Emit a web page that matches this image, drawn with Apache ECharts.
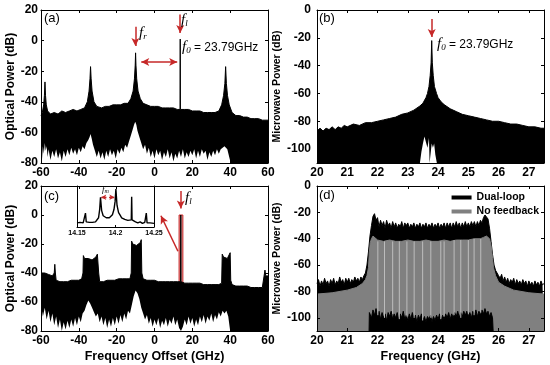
<!DOCTYPE html>
<html><head><meta charset="utf-8">
<script src="https://cdn.jsdelivr.net/npm/echarts@6/dist/echarts.min.js"></script>
<style>html,body{margin:0;padding:0;background:#fff}#c{width:550px;height:365px}</style>
</head><body><div id="c"></div>
<script>
// ---------- DATA ----------
const offsetTicks = [-60, -40, -20, 0, 20, 40, 60];
const freqTicks = [20, 21, 22, 23, 24, 25, 26, 27];
const microTicks = [-100, -80, -60, -40, -20, 0];
const insetTicks = [14.15, 14.2, 14.25];

// (a) optical spectrum, upper envelope [GHz, dB]
const aUpper = [[-60,-49],[-59.3,-47],[-58.6,-42],[-58.2,-36],[-57.9,-27],[-57.6,-36],[-57.2,-42],[-56.5,-46],[-55,-48],[-53,-47],[-51,-48],[-49,-46],[-47,-47],[-45,-46],[-43,-45],[-41,-46],[-39,-45],[-37,-44],[-35.5,-40],[-34.6,-33],[-34.1,-25],[-33.8,-17],[-33.5,-25],[-33,-33],[-32,-40],[-30.5,-43],[-28,-44],[-26,-43],[-24,-43],[-22,-42],[-20,-42],[-18,-42],[-16,-41],[-14,-41],[-12.5,-38],[-11.3,-33],[-10.6,-25],[-10.2,-16],[-10,-8],[-9.8,-16],[-9.4,-25],[-8.7,-33],[-7.5,-38],[-6,-41],[-4,-42],[-2,-43],[0,-43],[2,-43],[4,-44],[6,-44],[8,-44],[10,-44],[12,-45],[13.5,-45],[13.6,1],[13.7,-45],[16,-45],[18,-45],[20,-46],[22,-46],[24,-46],[26,-47],[28,-47],[30,-47],[32,-47],[34,-46],[35.5,-42],[36.5,-36],[37.2,-28],[37.6,-17],[38,-28],[38.6,-36],[39.5,-42],[41,-47],[43,-49],[45,-49],[47,-50],[49,-50],[51,-51],[53,-51],[55,-51],[57,-52],[60,-52]];
// (a) lower edge of the noise (white below)
const aLower = [[-60,-70],[-59.5,-78],[-59,-69],[-58.5,-74],[-58,-67],[-57.5,-72],[-57,-69],[-56.5,-76],[-56,-71],[-55,-78],[-54,-72],[-53,-76],[-52,-71],[-51,-77],[-50,-73],[-49,-79],[-48,-72],[-47,-76],[-46,-71],[-45,-75],[-44,-70],[-43,-74],[-42,-71],[-41,-75],[-40,-70],[-39,-73],[-38,-69],[-37,-71],[-36,-67],[-35,-65],[-34.3,-63],[-33.8,-61],[-33.2,-64],[-32.5,-68],[-31.5,-72],[-30.5,-76],[-29.5,-72],[-28.5,-77],[-27.5,-73],[-26.5,-78],[-25.5,-72],[-24.5,-76],[-23.5,-71],[-22.5,-75],[-21.5,-72],[-20.5,-77],[-19.5,-71],[-18.5,-74],[-17.5,-70],[-16.5,-73],[-15.5,-68],[-14.5,-70],[-13.5,-66],[-12.5,-62],[-11.5,-58],[-10.8,-55],[-10.2,-53],[-9.6,-55],[-9,-59],[-8,-63],[-7,-67],[-6,-71],[-5,-68],[-4,-74],[-3,-70],[-2,-76],[-1,-72],[0,-77],[1,-71],[2,-75],[3,-72],[4,-78],[5,-73],[6,-76],[7,-71],[8,-77],[9,-73],[10,-79],[11,-74],[12,-77],[13,-72],[14,-76],[15,-71],[16,-77],[17,-73],[18,-76],[19,-72],[20,-75],[21,-71],[22,-77],[23,-72],[24,-76],[25,-71],[26,-74],[27,-72],[28,-78],[29,-73],[30,-76],[31,-72],[32,-75],[33,-71],[34,-74],[35,-71],[36,-70],[37,-69],[37.7,-68],[38.5,-71],[39.5,-76],[40.3,-80],[60,-80]];

// (b) microwave spectrum
const bUpper = [[20,-87],[20.1,-85],[20.2,-87],[20.3,-85],[20.4,-86],[20.5,-84],[20.6,-86],[20.7,-84],[20.8,-85],[20.9,-83],[21,-84],[21.2,-82],[21.4,-83],[21.6,-81],[21.8,-81],[22,-80],[22.2,-79],[22.4,-78],[22.6,-77],[22.8,-75],[23,-74],[23.2,-72],[23.4,-69],[23.5,-67],[23.6,-63],[23.65,-60],[23.7,-55],[23.74,-47],[23.77,-38],[23.79,-22],[23.81,-38],[23.84,-47],[23.88,-55],[23.95,-60],[24,-63],[24.1,-66],[24.2,-68],[24.4,-71],[24.6,-73],[24.8,-75],[25,-76],[25.2,-77],[25.4,-78],[25.6,-79],[25.8,-80],[26,-80],[26.2,-81],[26.4,-82],[26.6,-82],[26.8,-83],[27,-84],[27.2,-84],[27.4,-85],[27.5,-85]];
const bLower = [[23.4,-110],[23.45,-102],[23.5,-96],[23.55,-91],[23.6,-95],[23.65,-99],[23.7,-92],[23.72,-110],[23.77,-110],[23.79,-96],[23.83,-99],[23.87,-96],[23.91,-104],[23.96,-110]];

// (c) optical spectrum with dual loop
const cUpper = [[-60,-40],[-58,-40],[-56,-41],[-54,-42],[-53,-40],[-52.7,-34],[-52.4,-40],[-52,-45],[-50,-46],[-48,-46],[-46,-46],[-44,-45],[-42,-45],[-40,-45],[-38.5,-44],[-37.8,-40],[-37.6,-28],[-37,-30],[-36,-29],[-35,-30],[-34,-31],[-33,-31],[-32,-30],[-31,-29],[-30.2,-27],[-29.8,-26],[-29.5,-40],[-29,-46],[-27,-46],[-25,-45],[-23,-45],[-21,-45],[-19,-44],[-17,-44],[-15,-44],[-13,-44],[-12.3,-40],[-12.1,-18],[-11.5,-20],[-10.5,-20],[-9.5,-21],[-8.5,-20],[-7.5,-19],[-7,-17],[-6.7,-40],[-6,-44],[-4,-45],[-2,-45],[0,-45],[2,-46],[4,-46],[6,-46],[8,-46],[10,-46],[12,-46],[13.8,-46],[13.9,0],[14.0,-46],[16,-47],[18,-47],[20,-47],[22,-47],[24,-47],[26,-48],[28,-48],[30,-48],[32,-48],[34,-48],[35.5,-47],[35.8,-27],[36.5,-29],[37.5,-30],[38.5,-30],[39.5,-29],[40,-26],[40.3,-45],[41,-48],[43,-49],[45,-49],[47,-49],[49,-49],[51,-50],[53,-50],[55,-50],[57,-50],[58,-49],[58.4,-38],[58.8,-42],[59.5,-42],[60,-42]];
const cLower = [[-60,-62],[-59,-70],[-58,-64],[-57,-72],[-56,-66],[-55,-74],[-54,-68],[-53,-76],[-52,-70],[-51,-78],[-50,-72],[-49,-80],[-48,-74],[-47,-79],[-46,-73],[-45,-78],[-44,-72],[-43,-77],[-42,-71],[-41,-76],[-40,-70],[-39,-74],[-38,-68],[-37,-66],[-36,-62],[-35,-59],[-34,-61],[-33,-64],[-32,-67],[-31,-70],[-30,-68],[-29,-74],[-28,-70],[-27,-76],[-26,-71],[-25,-78],[-24,-72],[-23,-77],[-22,-71],[-21,-76],[-20,-70],[-19,-75],[-18,-69],[-17,-74],[-16,-68],[-15,-72],[-14,-66],[-13,-68],[-12,-62],[-11,-56],[-10,-52],[-9,-54],[-8,-58],[-7,-64],[-6,-68],[-5,-72],[-4,-69],[-3,-75],[-2,-71],[-1,-77],[0,-72],[1,-76],[2,-71],[3,-78],[4,-73],[5,-76],[6,-71],[7,-77],[8,-72],[9,-75],[10,-70],[11,-76],[12,-72],[13,-78],[14,-80],[15,-77],[16,-72],[17,-76],[18,-70],[19,-75],[20,-71],[21,-77],[22,-72],[23,-76],[24,-70],[25,-74],[26,-69],[27,-75],[28,-70],[29,-73],[30,-68],[31,-74],[32,-69],[33,-72],[34,-67],[35,-70],[36,-66],[37,-68],[38,-66],[39,-70],[40,-80],[60,-80]];
const cBand = [13.0, 15.0];   // highlighted region (GHz)

// (c) inset, zoom around 14.2 GHz (relative dB)
const insetLine = [[14.15,-72],[14.152,-75],[14.154,-71],[14.156,-74],[14.158,-72],[14.16,-70],[14.161,-53],[14.162,-70],[14.164,-73],[14.166,-71],[14.168,-74],[14.17,-71],[14.172,-73],[14.174,-70],[14.176,-68],[14.178,-62],[14.1795,-45],[14.1805,-22],[14.182,-48],[14.184,-58],[14.186,-61],[14.188,-62],[14.19,-63],[14.192,-62],[14.194,-60],[14.196,-56],[14.198,-46],[14.1995,-30],[14.2005,-6],[14.202,-38],[14.204,-52],[14.206,-57],[14.208,-62],[14.21,-64],[14.212,-65],[14.214,-66],[14.216,-67],[14.218,-68],[14.2205,-66],[14.221,-21],[14.2215,-66],[14.223,-69],[14.226,-70],[14.229,-72],[14.232,-70],[14.235,-73],[14.238,-71],[14.24,-53],[14.241,-72],[14.243,-74],[14.245,-72],[14.247,-75],[14.25,-73]];

// (d) microwave spectra
const dDualUpper = [[20,-74],[20.05,-71],[20.1,-76],[20.15,-72],[20.2,-75],[20.25,-70],[20.3,-74],[20.35,-72],[20.4,-76],[20.45,-71],[20.5,-74],[20.55,-70],[20.6,-75],[20.65,-72],[20.7,-74],[20.75,-69],[20.8,-73],[20.85,-71],[20.9,-75],[20.95,-70],[21,-73],[21.05,-70],[21.1,-74],[21.15,-71],[21.2,-73],[21.25,-69],[21.3,-72],[21.35,-70],[21.4,-73],[21.45,-69],[21.5,-71],[21.55,-68],[21.6,-66],[21.65,-60],[21.7,-50],[21.75,-38],[21.8,-30],[21.85,-23],[21.9,-21],[21.95,-26],[22,-24],[22.05,-31],[22.1,-26],[22.15,-30],[22.2,-27],[22.25,-32],[22.3,-26],[22.35,-30],[22.4,-28],[22.45,-32],[22.5,-27],[22.55,-31],[22.6,-28],[22.65,-32],[22.7,-29],[22.75,-31],[22.8,-27],[22.85,-32],[22.9,-28],[22.95,-30],[23,-28],[23.05,-32],[23.1,-29],[23.15,-31],[23.2,-28],[23.25,-32],[23.3,-29],[23.35,-31],[23.4,-28],[23.45,-32],[23.5,-29],[23.55,-31],[23.6,-28],[23.65,-32],[23.7,-29],[23.75,-31],[23.8,-28],[23.85,-32],[23.9,-29],[23.95,-31],[24,-28],[24.05,-32],[24.1,-29],[24.15,-31],[24.2,-28],[24.25,-32],[24.3,-28],[24.35,-31],[24.4,-28],[24.45,-32],[24.5,-28],[24.55,-31],[24.6,-27],[24.65,-31],[24.7,-28],[24.75,-32],[24.8,-28],[24.85,-31],[24.9,-27],[24.95,-31],[25,-28],[25.05,-31],[25.1,-27],[25.15,-30],[25.2,-27],[25.25,-31],[25.3,-27],[25.35,-30],[25.4,-26],[25.45,-28],[25.5,-24],[25.55,-22],[25.6,-21],[25.65,-25],[25.7,-32],[25.75,-42],[25.8,-52],[25.85,-60],[25.9,-64],[25.95,-66],[26,-68],[26.05,-70],[26.1,-67],[26.15,-72],[26.2,-69],[26.25,-73],[26.3,-70],[26.35,-74],[26.4,-71],[26.45,-73],[26.5,-70],[26.55,-75],[26.6,-71],[26.65,-74],[26.7,-72],[26.75,-75],[26.8,-71],[26.85,-74],[26.9,-72],[26.95,-76],[27,-72],[27.05,-75],[27.1,-73],[27.15,-76],[27.2,-72],[27.25,-75],[27.3,-73],[27.35,-76],[27.4,-72],[27.45,-75],[27.5,-74]];
const dNoFbUpper = [[20,-82],[20.5,-81],[21,-79],[21.3,-77],[21.5,-74],[21.6,-71],[21.65,-68],[21.7,-62],[21.73,-50],[21.76,-43],[21.8,-40],[21.85,-38],[21.9,-39],[22,-41],[22.2,-42],[22.4,-41],[22.6,-42],[22.8,-42],[23,-41],[23.2,-42],[23.4,-42],[23.6,-41],[23.8,-42],[24,-42],[24.2,-41],[24.4,-42],[24.6,-41],[24.8,-41],[25,-41],[25.2,-40],[25.4,-40],[25.5,-39],[25.6,-38],[25.7,-40],[25.75,-45],[25.8,-55],[25.83,-62],[25.9,-68],[26,-73],[26.2,-76],[26.5,-79],[27,-81],[27.5,-82]];
const dDualBottom = [[21.72,-110],[21.73,-96],[21.8,-100],[21.85,-94],[21.9,-98],[21.95,-93],[22,-99],[22.05,-95],[22.1,-101],[22.15,-96],[22.2,-100],[22.25,-97],[22.3,-102],[22.35,-96],[22.4,-99],[22.45,-95],[22.5,-101],[22.55,-97],[22.6,-100],[22.65,-96],[22.7,-102],[22.75,-97],[22.8,-100],[22.85,-95],[22.9,-101],[22.95,-98],[23,-102],[23.05,-97],[23.1,-101],[23.15,-96],[23.2,-100],[23.25,-98],[23.3,-103],[23.35,-98],[23.4,-101],[23.45,-97],[23.5,-102],[23.55,-99],[23.6,-103],[23.65,-99],[23.7,-101],[23.75,-98],[23.8,-103],[23.85,-99],[23.9,-102],[23.95,-98],[24,-101],[24.05,-97],[24.1,-102],[24.15,-98],[24.2,-101],[24.25,-97],[24.3,-100],[24.35,-96],[24.4,-101],[24.45,-97],[24.5,-100],[24.55,-96],[24.6,-99],[24.65,-95],[24.7,-100],[24.75,-96],[24.8,-99],[24.85,-95],[24.9,-98],[24.95,-95],[25,-99],[25.05,-96],[25.1,-100],[25.15,-95],[25.2,-98],[25.25,-94],[25.3,-99],[25.35,-95],[25.4,-98],[25.45,-94],[25.5,-97],[25.55,-93],[25.6,-97],[25.65,-95],[25.7,-99],[25.75,-96],[25.8,-100],[25.82,-110]];
const dGapX = [22.01, 22.23, 22.5, 22.72, 22.97, 23.21, 23.49, 23.76, 24.09, 24.2, 24.53, 24.75, 25.0, 25.19, 25.41];
const dGapTop = [-42, -42, -42, -42, -42, -42, -42, -42, -42, -42, -41, -41, -41, -40, -40];
const dGapBottom = [-98, -100, -97, -101, -99, -100, -102, -100, -101, -99, -98, -100, -97, -98, -96];

// ---------- CHART ----------
const FONT = 'Liberation Sans';
const RED = '#c62828';
const chart = echarts.init(document.getElementById('c'), null, {renderer: 'canvas'});

const grids = [
  {left: 41, top: 10, width: 227, height: 153},
  {left: 317, top: 10, width: 227, height: 153},
  {left: 41, top: 186, width: 227, height: 145},
  {left: 317, top: 186, width: 227, height: 145},
  {left: 77, top: 186, width: 77, height: 41}
];
const lbl = {fontFamily: FONT, fontWeight: 'bold', fontSize: 12, color: '#000'};
function xAx(g, min, max, interval, pos, show, extra) {
  return Object.assign({type: 'value', gridIndex: g, min, max, interval, position: pos, z: 10,
    axisLine: {show: true, onZero: false, lineStyle: {color: '#000', width: 1}},
    axisTick: {show: true, inside: true, length: 3, lineStyle: {color: '#000'}},
    axisLabel: {show: show, margin: 4, ...lbl}, splitLine: {show: false}}, extra || {});
}
function yAx(g, min, max, interval, pos, show, extra) {
  return Object.assign({type: 'value', gridIndex: g, min, max, interval, position: pos, z: 10,
    axisLine: {show: true, onZero: false, lineStyle: {color: '#000', width: 1}},
    axisTick: {show: true, inside: true, length: 3, lineStyle: {color: '#000'}},
    axisLabel: {show: show, margin: 3, ...lbl}, splitLine: {show: false}}, extra || {});
}
const microY = (g, pos, show, name) => yAx(g, -110, 0, null, pos, show, {
  axisTick: {show: true, inside: true, length: 3, customValues: microTicks, lineStyle: {color: '#000'}},
  axisLabel: {show: show, margin: 6, customValues: microTicks, ...lbl},
  name: name || '', nameLocation: 'middle', nameGap: 29,
  nameTextStyle: {fontFamily: FONT, fontWeight: 'bold', fontSize: 10.5, color: '#000'}
});
const optY = (g, pos, show, name) => yAx(g, -80, 20, 20, pos, show, {
  name: name || '', nameLocation: 'middle', nameGap: 24,
  nameTextStyle: {fontFamily: FONT, fontWeight: 'bold', fontSize: 12, color: '#000'}
});

const xAxis = [
  xAx(0, -60, 60, 20, 'bottom', true),
  xAx(1, 20, 27.5, 1, 'bottom', true),
  xAx(2, -60, 60, 20, 'bottom', true, {name: 'Frequency Offset (GHz)', nameLocation: 'middle', nameGap: 19,
    nameTextStyle: {fontFamily: FONT, fontWeight: 'bold', fontSize: 12.5, color: '#000'}}),
  xAx(3, 20, 27.5, 1, 'bottom', true, {name: 'Frequency (GHz)', nameLocation: 'middle', nameGap: 19,
    nameTextStyle: {fontFamily: FONT, fontWeight: 'bold', fontSize: 12.5, color: '#000'}}),
  xAx(0, -60, 60, 20, 'top', false),
  xAx(1, 20, 27.5, 1, 'top', false),
  xAx(2, -60, 60, 20, 'top', false),
  xAx(3, 20, 27.5, 1, 'top', false),
  xAx(4, 14.15, 14.25, null, 'bottom', true, {
    axisTick: {show: true, inside: true, length: 2, customValues: insetTicks, lineStyle: {color: '#000'}},
    axisLabel: {show: true, margin: 3, customValues: insetTicks, fontFamily: FONT, fontWeight: 'bold', fontSize: 7, color: '#000'}}),
  xAx(4, 14.15, 14.25, null, 'top', false, {axisTick: {show: false}})
];
const yAxis = [
  optY(0, 'left', true, 'Optical Power (dB)'),
  microY(1, 'left', true, 'Microwave Power (dB)'),
  optY(2, 'left', true, 'Optical Power (dB)'),
  microY(3, 'left', true, 'Microwave Power (dB)'),
  optY(0, 'right', false),
  microY(1, 'right', false),
  optY(2, 'right', false),
  microY(3, 'right', false),
  yAx(4, -80, 0, 20, 'left', false, {axisTick: {show: false}}),
  yAx(4, -80, 0, 20, 'right', false, {axisTick: {show: false}})
];

function area(name, data, color, idx, z, lineW) {
  return {type: 'line', name, data, xAxisIndex: idx, yAxisIndex: idx, symbol: 'none', showSymbol: false,
    animation: false, silent: true, z,
    itemStyle: {color}, lineStyle: {color, width: lineW === undefined ? 1 : lineW},
    areaStyle: {color, opacity: 1, origin: 'start'}};
}
function arrowLine(p1, p2, both) {
  return [{coord: p1, symbol: both ? 'arrow' : 'none'}, {coord: p2, symbol: 'arrow'}];
}
const mlBase = {silent: true, animation: false, symbolSize: [6, 8], label: {show: false},
  lineStyle: {color: RED, width: 1.5, type: 'solid'}, emphasis: {disabled: true}};

const series = [
  // (a)
  Object.assign(area('aNoise', aUpper, '#000', 0, 2), {
    markLine: Object.assign({}, mlBase, {data: [
      arrowLine([-10.1, 9], [-10.1, -3.5]),
      arrowLine([13.6, 17], [13.6, 5]),
      arrowLine([-7, -14], [12, -14], true)
    ]})
  }),
  area('aMask', aLower, '#fff', 0, 3, 0),
  // (b)
  Object.assign(area('bNoise', bUpper, '#000', 1, 2), {
    markLine: Object.assign({}, mlBase, {data: [arrowLine([23.79, -6.5], [23.79, -19.5])]})
  }),
  area('bMask', bLower, '#fff', 1, 3, 0),
  // (c)
  area('cNoise', cUpper, '#000', 2, 2),
  area('cMask', cLower, '#fff', 2, 3, 0),
  {type: 'line', name: 'cBand', data: [], xAxisIndex: 2, yAxisIndex: 2, z: 4, silent: true, animation: false,
    markArea: {silent: true, animation: false,
      itemStyle: {color: 'rgba(200,40,40,0.45)', borderColor: RED, borderWidth: 1},
      data: [[{coord: [cBand[0], -80]}, {coord: [cBand[1], 0]}]]},
    markLine: Object.assign({}, mlBase, {data: [
      arrowLine([13.9, 16.5], [13.9, 4.5]),
      arrowLine([12.4, -25], [3.4, -0.5])
    ]})
  },
  // inset
  {type: 'line', name: 'inset', data: insetLine, xAxisIndex: 8, yAxisIndex: 8, symbol: 'none', showSymbol: false,
    silent: true, animation: false, z: 6, lineStyle: {color: '#000', width: 1.4},
    markLine: Object.assign({}, mlBase, {lineStyle: {color: RED, width: 1.3}, symbolSize: [4, 5],
      data: [arrowLine([14.1815, -22], [14.1985, -22], true)]})
  },
  // (d)
  area('Dual-loop', dDualUpper, '#000', 3, 2),
  area('No feedback', dNoFbUpper, '#808080', 3, 3),
  area('dBottom', dDualBottom, '#000', 3, 4),
  {type: 'custom', name: 'dGaps', xAxisIndex: 3, yAxisIndex: 3, z: 5, silent: true, animation: false,
    data: dGapX.map((x, i) => [x, dGapTop[i], dGapBottom[i]]),
    encode: {x: 0, y: [1, 2]},
    renderItem: (params, api) => {
      const p1 = api.coord([api.value(0), api.value(1)]);
      const p2 = api.coord([api.value(0), api.value(2)]);
      return {type: 'line', shape: {x1: p1[0], y1: p1[1], x2: p2[0], y2: p2[1]},
        style: {stroke: '#bdbdbd', lineWidth: 1}};
    }}
];

const fTok = {fontFamily: 'Liberation Serif', fontStyle: 'italic', fontSize: 15, fill: '#000', lineHeight: 16};
const sTok = {fontFamily: 'Liberation Serif', fontStyle: 'italic', fontSize: 9, fill: '#000', verticalAlign: 'bottom', lineHeight: 16};
const tTok = {fontFamily: FONT, fontSize: 12, fill: '#000', lineHeight: 16};
function rich(left, top, text) {
  return {type: 'text', left, top, z: 20, silent: true,
    style: {text, rich: {f: fTok, s: sTok, t: tTok}}};
}
function panel(left, top, t) {
  return {type: 'text', left, top, z: 20, silent: true,
    style: {text: t, fontFamily: FONT, fontSize: 13, fill: '#000'}};
}

chart.setOption({
  animation: false,
  grid: grids,
  xAxis, yAxis, series,
  legend: {data: ['Dual-loop', 'No feedback'], orient: 'vertical', right: 6, top: 187,
    icon: 'rect', itemWidth: 20, itemHeight: 4, itemGap: 3, selectedMode: false,
    textStyle: {fontFamily: FONT, fontWeight: 'bold', fontSize: 10.5, color: '#000'}},
  graphic: [
    panel(44, 12, '(a)'), panel(319, 12, '(b)'), panel(44, 190, '(c)'), panel(319, 189, '(d)'),
    rich(139, 26, '{f|f}{s|r}'),
    rich(181, 13, '{f|f}{s|l}'),
    rich(182, 40, '{f|f}{s|0}{t| = 23.79GHz}'),
    rich(437, 37, '{f|f}{s|0}{t| = 23.79GHz}'),
    rich(185, 191, '{f|f}{s|l}'),
    {type: 'text', left: 102, top: 185, z: 20, silent: true,
      style: {text: '{f|f}{s|m}', rich: {
        f: {fontFamily: 'Liberation Serif', fontStyle: 'italic', fontSize: 9, fill: '#000', lineHeight: 10},
        s: {fontFamily: 'Liberation Serif', fontStyle: 'italic', fontSize: 6, fill: '#000', verticalAlign: 'bottom', lineHeight: 10}}}}
  ]
});
</script></body></html>
